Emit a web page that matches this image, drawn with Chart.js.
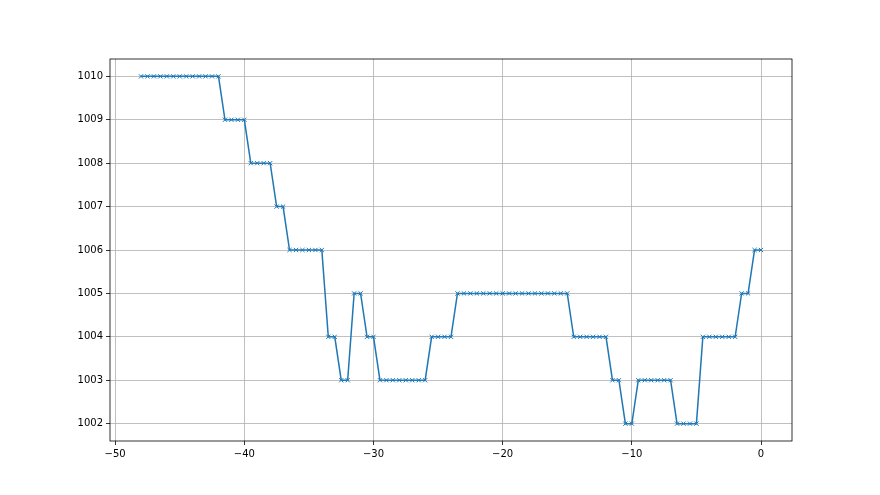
<!DOCTYPE html>
<html>
<head>
<meta charset="utf-8">
<script src="https://cdn.jsdelivr.net/npm/chart.js@4"></script>
<style>
    body { margin: 0; background: #fff; }
    #wrap { width: 880px; height: 495px; }
</style>
</head>
<body>
<div id="wrap"><canvas id="myChart" width="880" height="495"></canvas></div>
<script>
// x positions (hours) and pressure readings
const xValues = [
    -48, -47.5, -47, -46.5, -46, -45.5, -45, -44.5, -44, -43.5, -43, -42.5, -42,
    -41.5, -41, -40.5, -40,
    -39.5, -39, -38.5, -38,
    -37.5, -37,
    -36.5, -36, -35.5, -35, -34.5, -34,
    -33.5, -33,
    -32.5, -32,
    -31.5, -31,
    -30.5, -30,
    -29.5, -29, -28.5, -28, -27.5, -27, -26.5, -26,
    -25.5, -25, -24.5, -24,
    -23.5, -23, -22.5, -22, -21.5, -21, -20.5, -20, -19.5, -19, -18.5, -18, -17.5, -17, -16.5, -16, -15.5, -15,
    -14.5, -14, -13.5, -13, -12.5, -12,
    -11.5, -11,
    -10.5, -10,
    -9.5, -9, -8.5, -8, -7.5, -7,
    -6.5, -6, -5.5, -5,
    -4.5, -4, -3.5, -3, -2.5, -2,
    -1.5, -1,
    -0.5, 0
];
const yValues = [
    1010, 1010, 1010, 1010, 1010, 1010, 1010, 1010, 1010, 1010, 1010, 1010, 1010,
    1009, 1009, 1009, 1009,
    1008, 1008, 1008, 1008,
    1007, 1007,
    1006, 1006, 1006, 1006, 1006, 1006,
    1004, 1004,
    1003, 1003,
    1005, 1005,
    1004, 1004,
    1003, 1003, 1003, 1003, 1003, 1003, 1003, 1003,
    1004, 1004, 1004, 1004,
    1005, 1005, 1005, 1005, 1005, 1005, 1005, 1005, 1005, 1005, 1005, 1005, 1005, 1005, 1005, 1005, 1005, 1005,
    1004, 1004, 1004, 1004, 1004, 1004,
    1003, 1003,
    1002, 1002,
    1003, 1003, 1003, 1003, 1003, 1003,
    1002, 1002, 1002, 1002,
    1004, 1004, 1004, 1004, 1004, 1004,
    1005, 1005,
    1006, 1006
];
const xTicks = [-50, -40, -30, -20, -10, 0];
const yTicks = [1002, 1003, 1004, 1005, 1006, 1007, 1008, 1009, 1010];

const points = xValues.map((x, i) => ({ x: x, y: yValues[i] }));

// draw the full box around the plot like matplotlib spines
const framePlugin = {
    id: 'frame',
    afterDraw(chart) {
        const a = chart.chartArea;
        const c = chart.ctx;
        c.save();
        c.strokeStyle = '#000';
        c.lineWidth = 0.8;
        c.strokeRect(a.left, a.top, a.right - a.left, a.bottom - a.top);
        c.restore();
    }
};

const fmt = v => String(v).replace('-', '\u2212');

const ctx = document.getElementById('myChart');
new Chart(ctx, {
    type: 'line',
    data: {
        datasets: [{
            data: points,
            borderColor: '#1f77b4',
            backgroundColor: '#1f77b4',
            borderWidth: 1.5,
            pointStyle: 'crossRot',
            pointRadius: 3,
            pointBorderWidth: 1,
            pointBorderColor: '#1f77b4',
            tension: 0,
            fill: false
        }]
    },
    options: {
        responsive: false,
        animation: false,
        layout: { padding: { top: 59, right: 88, left: 0, bottom: 0 } },
        plugins: {
            legend: { display: false },
            tooltip: { enabled: false }
        },
        scales: {
            x: {
                type: 'linear',
                min: -50.4,
                max: 2.4,
                afterBuildTicks: s => { s.ticks = xTicks.map(v => ({ value: v })); },
                afterFit: s => { s.height = 54; },
                grid: { color: '#b0b0b0', lineWidth: 0.8, tickLength: 4, tickColor: '#000' },
                border: { display: false },
                ticks: {
                    color: '#000',
                    padding: 3,
                    maxRotation: 0,
                    font: { family: 'DejaVu Sans', size: 10 },
                    callback: v => fmt(v)
                }
            },
            y: {
                type: 'linear',
                min: 1001.6,
                max: 1010.4,
                afterBuildTicks: s => { s.ticks = yTicks.map(v => ({ value: v })); },
                afterFit: s => { s.width = 110; },
                grid: { color: '#b0b0b0', lineWidth: 0.8, tickLength: 4, tickColor: '#000' },
                border: { display: false },
                ticks: {
                    color: '#000',
                    padding: 3,
                    font: { family: 'DejaVu Sans', size: 10 },
                    callback: v => fmt(v)
                }
            }
        }
    },
    plugins: [framePlugin]
});
</script>
</body>
</html>
